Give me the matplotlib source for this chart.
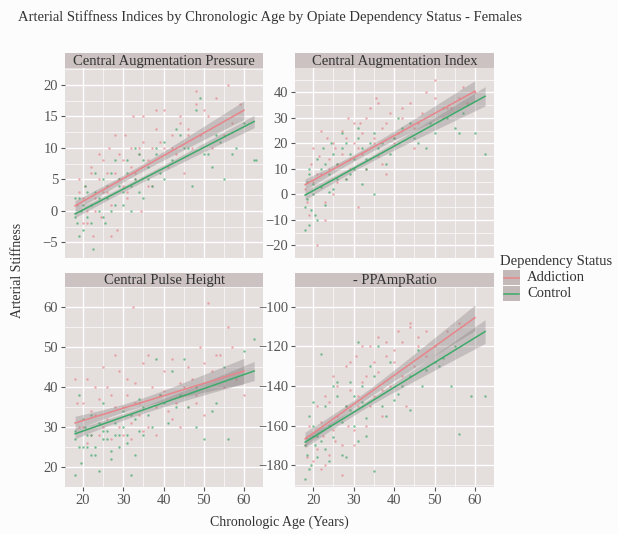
import numpy as np
import matplotlib
matplotlib.use("Agg")
import matplotlib.pyplot as plt
from matplotlib.patches import Rectangle
from matplotlib.lines import Line2D

plt.rcParams['font.family'] = ['Liberation Serif', 'DejaVu Serif']

# ---- data ----
panels = ["Central Augmentation Pressure", "Central Augmentation Index",
          "Central Pulse Height", "- PPAmpRatio"]
groups = ["Addiction", "Control"]

cap_add_age = [18.5, 19, 20, 20.5, 21, 22, 22.5, 23, 24, 24.5, 25, 26, 26.5, 27, 28, 28.5, 29, 30, 30.5, 31,
               32, 32.5, 33, 34, 34.5, 35, 36, 37, 38, 39, 40, 41, 42, 43, 44, 45, 46, 47, 48, 49, 51, 53, 55, 57, 59,
               19, 20, 21, 22, 23, 24, 25, 26, 27, 28, 29, 30, 31, 32, 33, 34, 35, 36, 37, 38, 40, 42, 44, 46,
               48, 50, 52, 56]
cap_add_val = [1, 3, -2, 4, 0, 6, -4, 2, 5, -1, 8, 3, 10, 1, 6, -3, 9, 4, 12, 2,
               7, 15, 5, 10, 0, 15, 8, 4, 16, 11, 10, 7, 12, 9, 14, 6, 13, 10, 17, 12, 15, 18, 12, 14, 17,
               5, 2, -2, 7, 0, 9, 3, 6, -4, 12, 5, 8, 3, 10, 6, 9, 11, 4, 10, 13, 16, 10, 15, 12,
               19, 16, 10, 20]
cap_ctl_age = [18, 18.5, 19, 19.5, 20, 20.5, 21, 22, 22.5, 23, 24, 25, 25.5, 26, 27, 28, 29, 30, 31, 32,
               33, 34, 35, 36, 37, 38, 39, 40, 42, 44, 45, 47, 49, 50, 52, 54, 55, 57, 60, 62.5,
               18, 19, 20, 21, 22, 23, 24, 25, 26, 27, 28, 29, 30, 31, 32, 33, 34, 35, 36, 38, 40, 43, 46, 48,
               51, 53, 58, 63]
cap_ctl_val = [-1, -2, 2, 0, -3, 4, -1, 1, -6, 3, 0, 5, -2, 2, 6, 1, 4, 3, 8, 0,
               5, 9, 2, 7, 4, 10, 6, 5, 8, 12, 10, 4, 18, 9, 7, 11, 5, 9, 14, 8,
               2, -4, 1, 3, -2, 6, 2, -1, 4, 0, 8, 5, 1, 6, 4, 10, 3, 8, 5, 9, 11, 13, 10, 16,
               9, 12, 10, 8]

cai_add_age = [18, 19, 19.5, 20, 21, 21.5, 22, 23, 23.5, 24, 25, 25.5, 26, 27, 28, 28.5, 29, 30, 31, 31.5,
               32, 33, 34, 35, 35.5, 36, 37, 38, 39, 40, 41, 42, 44, 45, 46, 48, 50, 52, 54, 56, 58, 60,
               18.5, 20, 21, 22, 23, 24, 25, 26, 27, 28, 29, 30, 31, 32, 33, 34, 35, 36, 37, 38, 40, 42, 45,
               47, 50, 53, 57]
cai_add_val = [2, -8, 12, 5, -20, 15, 8, -3, 22, 10, 0, 18, 12, 25, 6, 30, 14, 20, -5, 28,
               16, 10, 34, 22, 38, 15, 26, 8, 32, 20, 24, 30, 36, 18, 28, 40, 45, 30, 34, 38, 36, 40,
               -3, 18, 8, 25, -10, 14, 20, 5, 16, 22, 10, 28, 18, 24, 30, 14, 20, 36, 12, 28, 22, 34, 26,
               32, 38, 34, 42]
cai_ctl_age = [18, 18.5, 19, 19, 20, 20.5, 21, 22, 22.5, 23, 24, 24.5, 25, 26, 27, 28, 29, 30, 31, 32,
               33, 34, 35, 36, 38, 40, 42, 44, 46, 48, 50, 53, 55, 57, 60, 62.5,
               18, 18.5, 19, 19.5, 20, 21, 22, 23, 24, 25, 26, 27, 28, 29, 30, 31, 32, 33, 35, 37, 39, 41,
               45, 49, 52, 56]
cai_ctl_val = [-5, 5, -12, 10, 0, -8, 14, 3, 18, -4, 8, 20, 2, 12, 24, 6, 16, 10, 26, 4,
               14, 20, 0, 18, 12, 22, 26, 28, 20, 18, 24, 30, 26, 32, 24, 16,
               -14, -2, 8, -6, 4, -10, 10, 12, 1, 16, 6, 18, 20, 8, 14, 22, 18, 10, 24, 20, 16, 30,
               22, 28, 34, 24]

cph_add_age = [18, 19, 20, 21, 22, 23, 24, 25, 26, 27, 28, 29, 30, 31, 32, 32.5, 33, 34, 35, 36,
               37, 38, 39, 40, 41, 42, 43, 44, 45, 46, 47, 48, 49, 50, 51, 52, 54, 55, 56, 58, 60,
               18.5, 20, 21, 22, 23, 24, 25, 26, 27, 28, 29, 30, 31, 32, 33, 34, 35, 36, 38, 40, 42, 44,
               46, 48, 50, 53, 57]
cph_add_val = [42, 30, 36, 26, 34, 40, 28, 45, 32, 38, 48, 30, 35, 42, 27, 60, 36, 33, 46, 30,
               40, 28, 38, 44, 34, 47, 36, 30, 40, 35, 42, 38, 50, 46, 61, 44, 48, 40, 55, 42, 38,
               36, 30, 42, 28, 33, 37, 30, 40, 27, 35, 44, 28, 38, 31, 41, 36, 29, 48, 35, 39, 32, 41,
               45, 36, 33, 48, 50]
cph_ctl_age = [18, 18, 19, 19.5, 20, 20.5, 21, 22, 22, 23, 24, 25, 25, 26, 27, 28, 29, 30, 31, 32,
               33, 34, 35, 36, 38, 40, 42, 44, 46, 48, 50, 53, 56, 60, 62.5,
               18, 19, 20, 21, 22, 23, 24, 25, 26, 27, 28, 29, 30, 31, 32, 33, 34, 35, 37, 39, 41, 43,
               45, 48, 52, 55]
cph_ctl_val = [18, 27, 38, 21, 25, 30, 28, 23, 33, 25, 19, 29, 36, 27, 24, 31, 28, 34, 26, 18,
               32, 37, 28, 33, 47, 36, 44, 38, 35, 40, 27, 36, 27, 49, 52,
               29, 25, 32, 25, 28, 23, 31, 27, 29, 22, 28, 25, 30, 28, 33, 23, 29, 35, 30, 38, 31, 35,
               47, 30, 34, 45]

ppa_add_age = [18, 19, 20, 21, 22, 22.5, 23, 24, 25, 25.5, 26, 27, 28, 28.5, 29, 30, 30.5, 31, 32, 33,
               34, 35, 36, 37, 38, 39, 40, 41, 42, 43, 44, 45, 46, 48, 50, 53, 56,
               18.5, 20, 21, 22, 23, 24, 25, 26, 27, 28, 29, 30, 31, 32, 33, 34, 35, 36, 37, 38, 40, 42,
               44, 46, 48]
ppa_add_val = [-170, -160, -178, -150, -182, -165, -145, -175, -135, -168, -155, -185, -130, -160, -142, -170, -125,
               -150, -138, -160, -120, -145, -133, -155, -118, -140, -128, -112, -135, -150, -108, -130, -115,
               -125, -120, -112, -108,
               -176, -165, -172, -158, -180, -148, -162, -140, -170, -150, -128, -162, -145, -120, -135, -150,
               -128, -115, -142, -125, -122, -118, -110, -120, -112]
ppa_ctl_age = [18, 18.5, 19, 19.5, 20, 20.5, 21, 22, 23, 24, 25, 26, 27, 28, 29, 30, 31, 32, 33, 34,
               35, 36, 38, 40, 42, 44, 46, 48, 50, 52, 54, 56, 59, 62.5,
               18, 19, 20, 21, 22, 23, 24, 25, 26, 27, 28, 29, 30, 31, 32, 33, 35, 37, 39, 41, 44, 47,
               51, 55]
ppa_ctl_val = [-187, -175, -155, -180, -148, -170, -165, -124, -172, -160, -140, -145, -175, -150, -138, -160,
               -118, -148, -165, -130, -183, -120, -155, -147, -140, -152, -122, -132, -128, -126, -140, -164,
               -145, -145,
               -170, -182, -160, -176, -168, -150, -178, -166, -138, -158, -176, -152, -145, -168, -140, -156,
               -135, -150, -128, -144, -135, -140, -130, -120]

# fitted lines: age start, age end, value at start, value at end, min CI half width, CI half width at end
fit_add = [(18, 60, 0.8, 16.0, 0.55, 1.5), (18, 60, 3.8, 40.5, 1.3, 4.2),
           (18, 60, 31.0, 44.0, 1.0, 3.2), (18, 60, -166.7, -105.5, 2.0, 6.5)]
fit_ctl = [(18, 62.5, -0.5, 14.2, 0.45, 1.0), (18, 62.5, -0.3, 38.5, 1.1, 3.8),
           (18, 62.5, 28.3, 44.0, 0.8, 2.4), (18, 62.5, -168.3, -112.5, 1.6, 6.0)]
age_mean = 31

points = [((cap_add_age, cap_add_val), (cap_ctl_age, cap_ctl_val)),
          ((cai_add_age, cai_add_val), (cai_ctl_age, cai_ctl_val)),
          ((cph_add_age, cph_add_val), (cph_ctl_age, cph_ctl_val)),
          ((ppa_add_age, ppa_add_val), (ppa_ctl_age, ppa_ctl_val))]

yticks = [[-5, 0, 5, 10, 15, 20], [-20, -10, 0, 10, 20, 30, 40],
          [20, 30, 40, 50, 60], [-180, -160, -140, -120, -100]]
ylims = [(-5.8, 22.7), (-20.6, 49.6), (16.0, 63.2), (-191, -93.7)]

col_add = '#E8858A'
col_ctl = '#3DAA6A'
panel_bg = '#E4DEDD'
strip_bg = '#CBC2C1'
tick_col = '#555555'

W, H = 618, 534
fig = plt.figure(figsize=(W / 100, H / 100), dpi=100, facecolor='#FDFCFC')


def box(x0, y0, x1, y1):
    return [x0 / W, 1 - y1 / H, (x1 - x0) / W, (y1 - y0) / H]


cols = [(65, 263), (295, 494)]
rows = [(53, 68, 258), (273, 287, 487)]

for i, name in enumerate(panels):
    r, c = divmod(i, 2)
    x0, x1 = cols[c]
    s0, p0, p1 = rows[r]

    sax = fig.add_axes(box(x0, s0, x1, p0))
    sax.set_facecolor(strip_bg)
    sax.set_xticks([]); sax.set_yticks([])
    for sp in sax.spines.values():
        sp.set_visible(False)
    sax.text(0.5, 0.45, name, ha='center', va='center', fontsize=10.5, color='#333333',
             transform=sax.transAxes)

    ax = fig.add_axes(box(x0, p0, x1, p1))
    ax.set_facecolor(panel_bg)
    for sp in ax.spines.values():
        sp.set_visible(False)
    ax.set_xlim(15.5, 64.7)
    ax.set_ylim(*ylims[i])
    ax.set_xticks([20, 30, 40, 50, 60])
    ax.set_xticks([25, 35, 45, 55], minor=True)
    ax.set_yticks(yticks[i])
    yt = yticks[i]
    step = yt[1] - yt[0]
    ax.set_yticks([v + step / 2 for v in [yt[0] - step] + yt], minor=True)
    ax.grid(which='major', color='white', lw=1.0)
    ax.grid(which='minor', color='white', lw=0.45)
    ax.set_axisbelow(True)
    ax.tick_params(which='minor', length=0)
    ax.tick_params(axis='y', length=3, color=tick_col, labelcolor=tick_col, labelsize=10.5, pad=2)
    ax.tick_params(axis='x', length=3, color=tick_col, labelcolor=tick_col, labelsize=10.5, pad=2)
    if r == 0:
        ax.tick_params(axis='x', length=0, labelbottom=False)

    (aa, av), (ca, cv) = points[i]
    ax.scatter(aa, av, s=3, color=col_add, alpha=0.7, lw=0, zorder=2)
    ax.scatter(ca, cv, s=3, color=col_ctl, alpha=0.7, lw=0, zorder=2)

    for fit, col in ((fit_add[i], col_add), (fit_ctl[i], col_ctl)):
        a0, a1, v0, v1, hmin, hend = fit
        xs = np.linspace(a0, a1, 80)
        slope = (v1 - v0) / (a1 - a0)
        ys = v0 + slope * (xs - a0)
        k = (hend ** 2 - hmin ** 2) / (a1 - age_mean) ** 2
        hw = np.sqrt(hmin ** 2 + k * (xs - age_mean) ** 2)
        ax.fill_between(xs, ys - hw, ys + hw, color='#8A8282', alpha=0.35, lw=0, zorder=3)
        ax.plot(xs, ys, color=col, lw=1.1, zorder=4)

fig.text(18 / W, 1 - 17 / H, "Arterial Stiffness Indices by Chronologic Age by Opiate Dependency Status - Females",
         ha='left', va='center', fontsize=10.5, color='#333333')
fig.text(18 / W, 1 - 270 / H, "Arterial Stiffness", rotation=90, ha='center', va='center',
         fontsize=10, color='#333333')
fig.text(279 / W, 1 - 522 / H, "Chronologic Age (Years)", ha='center', va='center',
         fontsize=10, color='#333333')

# legend
fig.text(500 / W, 1 - 262 / H, "Dependency Status", ha='left', va='center', fontsize=10.5, color='#333333')
for j, (lab, col) in enumerate(zip(groups, [col_add, col_ctl])):
    y0 = 270 + j * 16
    fig.patches.append(Rectangle((503 / W, 1 - (y0 + 15) / H), 17 / W, 15 / H,
                                 transform=fig.transFigure, facecolor='#C2B9B8', edgecolor='none'))
    fig.lines.append(Line2D([504 / W, 519 / W], [1 - (y0 + 7.5) / H] * 2,
                            transform=fig.transFigure, color=col, lw=1.1))
    fig.text(527 / W, 1 - (y0 + 7.5) / H, lab, ha='left', va='center', fontsize=10.5, color='#333333')

fig.savefig("out.png", dpi=100, facecolor=fig.get_facecolor())
